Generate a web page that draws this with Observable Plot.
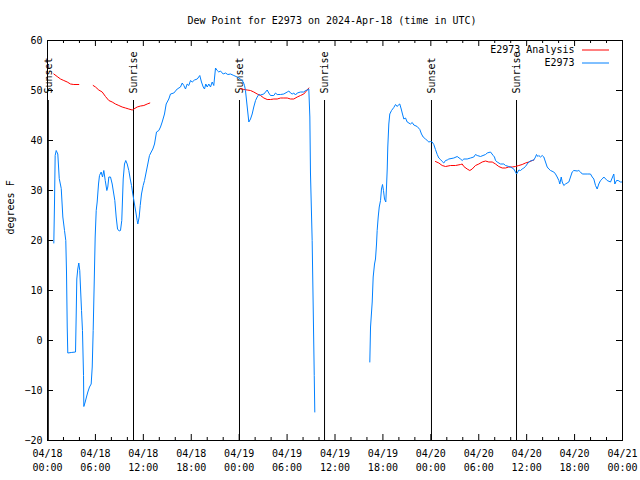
<!DOCTYPE html>
<html>
<head>
<meta charset="utf-8">
<script src="https://cdn.jsdelivr.net/npm/d3@7"></script>
<script src="https://cdn.jsdelivr.net/npm/@observablehq/plot@0.6"></script>
<style>
  html, body { margin: 0; padding: 0; background: white; }
</style>
</head>
<body>
<div id="chart"></div>
<script>
// ---- Data (hours since 2024-04-18 00:00 UTC, dew point °F) ----
const titleText = "Dew Point for E2973 on 2024-Apr-18 (time in UTC)";
const yLabelText = "degrees F";
const seriesNames = ["E2973 Analysis", "E2973"];
const seriesColors = ["#ff0000", "#0080ff"];
const yTicks = [-20, -10, 0, 10, 20, 30, 40, 50, 60];
const xMajorHours = [0, 6, 12, 18, 24, 30, 36, 42, 48, 54, 60, 66, 72];
const xMinorHours = [2, 4, 8, 10, 14, 16, 20, 22, 26, 28, 32, 34, 38, 40, 44, 46, 50, 52, 56, 58, 62, 64, 68, 70];

const sunLabels = ["Sunset", "Sunrise", "Sunset", "Sunrise", "Sunset", "Sunrise"];
const sunHours = [0.1, 10.77, 24.04, 34.69, 48.08, 58.73];
const sunLineTop = 48;

// Observed station values [hour, value]; null value = gap
const observed = [
  [0.79,19.5],[0.88,27.7],[0.96,37],[1.09,38],[1.29,37.3],[1.47,32.4],[1.72,30.4],[1.92,24.7],
  [2.13,22],[2.29,20],[2.38,13.7],[2.47,2.7],[2.54,-2.5],[2.97,-2.4],[3.51,-2.3],[3.59,4.7],
  [3.67,12.3],[3.79,14.3],[3.92,15.5],[4.04,14],[4.13,10.7],[4.26,6],[4.38,2],[4.51,-7],
  [4.55,-13.2],[4.72,-12.3],[4.88,-11.3],[5.05,-10.3],[5.26,-9.3],[5.47,-8.7],[5.60,-5.3],
  [5.72,2],[5.85,11.7],[5.97,20.7],[6.10,26],[6.22,27.7],[6.39,31.3],[6.51,33],[6.72,33.7],
  [6.89,32.7],[7.05,34],[7.23,32],[7.43,30],[7.55,30.7],[7.68,32.7],[7.89,32.7],[8.10,31.3],
  [8.26,29.7],[8.43,28],[8.60,24.7],[8.77,22.3],[8.98,21.9],[9.14,22],[9.30,24],[9.48,32.3],
  [9.64,35.3],[9.80,36],[9.98,35.3],[10.18,34],[10.36,32.3],[10.52,31],[10.68,29.3],[10.89,27.3],
  [11.06,25.7],[11.23,24],[11.31,23.3],[11.48,24.7],[11.61,27],[11.77,29.3],[11.98,31],[12.15,32],
  [12.36,33.7],[12.56,35.3],[12.77,37],[12.99,37.7],[13.19,38.3],[13.40,39.3],[13.65,41.7],
  [13.94,42],[14.15,42.7],[14.36,43.7],[14.65,45.3],[14.86,47.3],[15.19,48.3],[15.40,49.3],
  [15.82,49.5],[16.24,50.3],[16.65,50.7],[16.87,51.5],[17.07,51],[17.28,50.3],[17.49,51.3],
  [17.69,51],[17.91,52],[18.12,51.7],[18.41,52.1],[18.75,52.3],[19.07,53],[19.28,51.7],
  [19.50,50.7],[19.66,50.3],[19.82,51.3],[20.00,50.7],[20.20,51.3],[20.41,50.7],[20.62,51.7],
  [20.82,51],[21.04,54.5],[21.25,54],[21.45,53.7],[21.66,53.9],[22.00,53.3],[22.29,53.5],
  [22.58,53.2],[22.92,53.3],[23.33,53],[23.75,52.7],[24.17,52.3],[24.51,51.7],[24.67,51],
  [24.79,50],[25.01,46.7],[25.21,43.7],[25.42,44.3],[25.63,45.3],[25.83,46.7],[26.05,48],
  [26.26,48.7],[26.46,49.2],[26.67,49.1],[27.09,49.3],[27.30,49.7],[27.51,50.1],[27.71,49.5],
  [27.92,49],[28.34,49],[28.55,49.5],[28.76,49.2],[29.18,49.2],[29.59,49.3],[30.02,49.7],
  [30.22,49.9],[30.43,49.5],[30.64,49.3],[30.84,49.5],[31.05,49.1],[31.27,49.5],[31.68,49.7],
  [32.09,49.7],[32.31,50],[32.52,50.1],[32.72,50.3],[32.85,44.7],[32.93,33.5],[33.14,20],
  [33.27,6.7],[33.40,-7],[33.47,-14.3],
  [36,null],
  [40.36,-4.3],[40.45,2.7],[40.66,7.7],[40.78,12.7],[40.95,15.3],[41.07,16.3],[41.20,19.3],
  [41.28,22],[41.41,24.7],[41.54,26.7],[41.70,28],[41.82,30.3],[41.95,31.2],[42.07,30],
  [42.20,28.3],[42.36,27.7],[42.45,30.7],[42.54,34.3],[42.61,38.7],[42.74,43.3],[42.86,45.3],
  [43.08,46],[43.36,46.6],[43.58,47.2],[43.79,46.8],[43.99,47.2],[44.11,47.3],[44.29,46.3],
  [44.45,45.3],[44.62,44.3],[44.83,44.5],[45.04,43.7],[45.45,43.3],[45.67,43.6],[45.87,43.1],
  [46.29,42.8],[46.62,42.2],[46.83,41.3],[47.04,40.7],[47.33,40.3],[47.55,40],[47.75,39.7],
  [47.96,39.8],[48.17,39.7],[48.37,39.2],[48.58,38.2],[48.80,37.2],[49.00,36.5],[49.21,36.2],
  [49.42,35.8],[49.62,35.5],[49.84,36],[50.05,36.1],[50.25,36.3],[50.88,36.5],[51.30,36.8],
  [51.72,36.3],[51.93,36],[52.13,36.3],[52.55,36.3],[52.97,36.5],[53.38,36.7],[53.59,37.2],
  [53.81,37],[54.22,36.8],[54.85,37.2],[55.06,37.5],[55.47,37.7],[55.81,37],[55.97,36.7],
  [56.10,36],[56.31,35.7],[56.72,35.3],[57.14,35.3],[57.35,35],[57.76,34.8],[57.98,34.7],
  [58.39,34.3],[58.60,33.7],[58.73,33.3],[58.89,33.7],[59.02,34.1],[59.23,34],[59.44,34.3],
  [59.64,34.5],[59.85,34.8],[60.07,35.3],[60.27,35.7],[60.48,35.9],[60.69,36],[60.89,36.1],
  [61.11,36.7],[61.23,37.2],[61.40,36.8],[61.52,37],[61.73,36.7],[61.95,37],[62.15,36.7],
  [62.36,35.7],[62.57,34.7],[62.78,34.3],[62.99,34],[63.40,33.7],[63.61,33.3],[63.82,32.7],
  [64.03,32],[64.15,31.3],[64.33,32.7],[64.45,31.7],[64.65,31],[64.86,31.3],[65.28,31.7],
  [65.49,32.7],[65.70,33.7],[65.90,34],[66.33,33.9],[66.53,34],[66.74,33.7],[66.96,33.3],
  [67.58,33.3],[67.99,33.3],[68.21,32.7],[68.41,32.3],[68.62,31],[68.83,30.3],[69.03,31.3],
  [69.25,32],[69.46,32.3],[69.66,32.7],[70.08,32],[70.50,31.7],[70.91,33.3],[71.04,31.3],
  [71.25,32],[71.46,32],[71.75,31.7],[71.96,31.7]
];

// Analysis values [hour, value]; null value = gap
const analysis = [
  [0.79,53.3],[1.21,52.8],[1.63,52.3],[2.04,52],[2.47,51.7],[2.88,51.3],[3.29,51.2],[3.92,51.2],
  [4.8,null],
  [5.72,51],[6.01,50.7],[6.42,50.1],[6.85,49.7],[7.26,48.8],[7.68,48],[8.10,47.7],[8.51,47.3],
  [8.93,47],[9.35,46.7],[9.77,46.5],[10.18,46.3],[10.61,46.1],[10.81,46.3],[11.23,46.7],
  [11.65,46.9],[12.06,47],[12.48,47.3],[12.81,47.5],
  [18,null],
  [24.17,50.4],[24.58,50.2],[25.01,50.1],[25.42,50],[25.83,49.7],[26.26,49.3],[26.67,49],
  [27.09,48.5],[27.51,48.2],[27.92,48.2],[28.34,48.3],[28.76,48.3],[29.18,48.5],[29.59,48.5],
  [30.02,48.5],[30.43,48.3],[30.84,48.3],[31.27,48.7],[31.68,49],[32.09,49.3],[32.31,49.7],
  [32.52,50.1],[32.72,50.5],
  [40,null],
  [48.58,35.8],[49.00,35.5],[49.42,35],[49.84,34.8],[50.47,35],[51.09,35],[51.72,35.2],
  [51.93,35.3],[52.13,34.8],[52.55,34.3],[52.88,34],[53.18,34.3],[53.59,35],[54.01,35.3],
  [54.43,35.7],[54.85,35.9],[55.26,35.7],[55.69,35.7],[56.10,35.3],[56.51,34.8],[56.94,34.5],
  [57.35,34.5],[57.76,34.7],[58.19,34.7],[58.60,34.8],[59.02,35],[59.44,35.2],[59.85,35.5],
  [60.27,35.7],[60.69,36],[60.89,36.1]
];

// ---- Build ----
const startMs = Date.UTC(2024, 3, 18);
const toDate = h => new Date(startMs + h * 3600e3);
const toRows = arr => arr.map(([h, v]) => ({time: toDate(h), value: v}));
const observedRows = toRows(observed);
const analysisRows = toRows(analysis);
const sunRows = sunHours.map((h, i) => ({time: toDate(h), label: sunLabels[i], top: sunLineTop, bottom: yTicks[0]}));
const xMajor = xMajorHours.map(toDate);
const xMinor = xMinorHours.map(toDate);
const fmt = d3.utcFormat("%m/%d\n%H:%M");
const FONT = "DejaVu Sans Mono";
const plotH = 480 - 40 - 40;
const plotW = 640 - 47 - 18;

const chart = Plot.plot({
  width: 640,
  height: 480,
  marginLeft: 47,
  marginRight: 18,
  marginTop: 40,
  marginBottom: 40,
  style: {fontFamily: FONT, fontSize: "10px", background: "white", color: "black"},
  x: {type: "utc", domain: [xMajor[0], xMajor[xMajor.length - 1]], label: null},
  y: {domain: [yTicks[0], yTicks[yTicks.length - 1]], label: null},
  marks: [
    // inward ticks (bottom / top / left / right)
    Plot.gridX(xMajor, {stroke: "black", strokeOpacity: 1, insetTop: plotH - 6}),
    Plot.gridX(xMajor, {stroke: "black", strokeOpacity: 1, insetBottom: plotH - 6}),
    Plot.gridX(xMinor, {stroke: "black", strokeOpacity: 1, insetTop: plotH - 3}),
    Plot.gridX(xMinor, {stroke: "black", strokeOpacity: 1, insetBottom: plotH - 3}),
    Plot.gridY(yTicks, {stroke: "black", strokeOpacity: 1, insetRight: plotW - 6}),
    Plot.gridY(yTicks, {stroke: "black", strokeOpacity: 1, insetLeft: plotW - 6}),
    // tick labels
    Plot.axisX(xMajor, {anchor: "bottom", tickSize: 0, tickPadding: 7, tickFormat: fmt, lineHeight: 1.4, label: null, fontSize: 10}),
    Plot.axisY(yTicks, {anchor: "left", tickSize: 0, tickPadding: 5, label: null, fontSize: 10}),
    // sunrise / sunset
    Plot.ruleX(sunRows, {x: "time", y1: "top", y2: "bottom", stroke: "black", strokeWidth: 1}),
    Plot.text(sunRows, {x: "time", y: "top", text: "label", rotate: -90, textAnchor: "start", lineAnchor: "middle", dy: -7, fill: "black", fontSize: 10}),
    // series
    Plot.line(analysisRows, {x: "time", y: "value", stroke: seriesColors[0], strokeWidth: 1, curve: "linear"}),
    Plot.line(observedRows, {x: "time", y: "value", stroke: seriesColors[1], strokeWidth: 1, curve: "linear"}),
    // frame
    Plot.frame({stroke: "black", strokeWidth: 1}),
    // legend
    Plot.text([seriesNames[0]], {text: d => d, frameAnchor: "top-right", dx: -48, dy: 9.5, textAnchor: "end", lineAnchor: "middle", fill: "black", fontSize: 10}),
    Plot.text([seriesNames[1]], {text: d => d, frameAnchor: "top-right", dx: -48, dy: 22.5, textAnchor: "end", lineAnchor: "middle", fill: "black", fontSize: 10}),
    Plot.ruleY([yTicks[yTicks.length - 1]], {dy: 9.5, insetLeft: plotW - 40, insetRight: 13, stroke: seriesColors[0], strokeWidth: 1}),
    Plot.ruleY([yTicks[yTicks.length - 1]], {dy: 22.5, insetLeft: plotW - 40, insetRight: 13, stroke: seriesColors[1], strokeWidth: 1}),
    // title and y label
    Plot.text([titleText], {text: d => d, frameAnchor: "top", dy: -20, dx: -3, lineAnchor: "middle", fill: "black", fontSize: 10}),
    Plot.text([yLabelText], {text: d => d, frameAnchor: "left", dx: -37, dy: -6, rotate: -90, lineAnchor: "middle", fill: "black", fontSize: 10})
  ]
});
document.getElementById("chart").appendChild(chart);
</script>
</body>
</html>
